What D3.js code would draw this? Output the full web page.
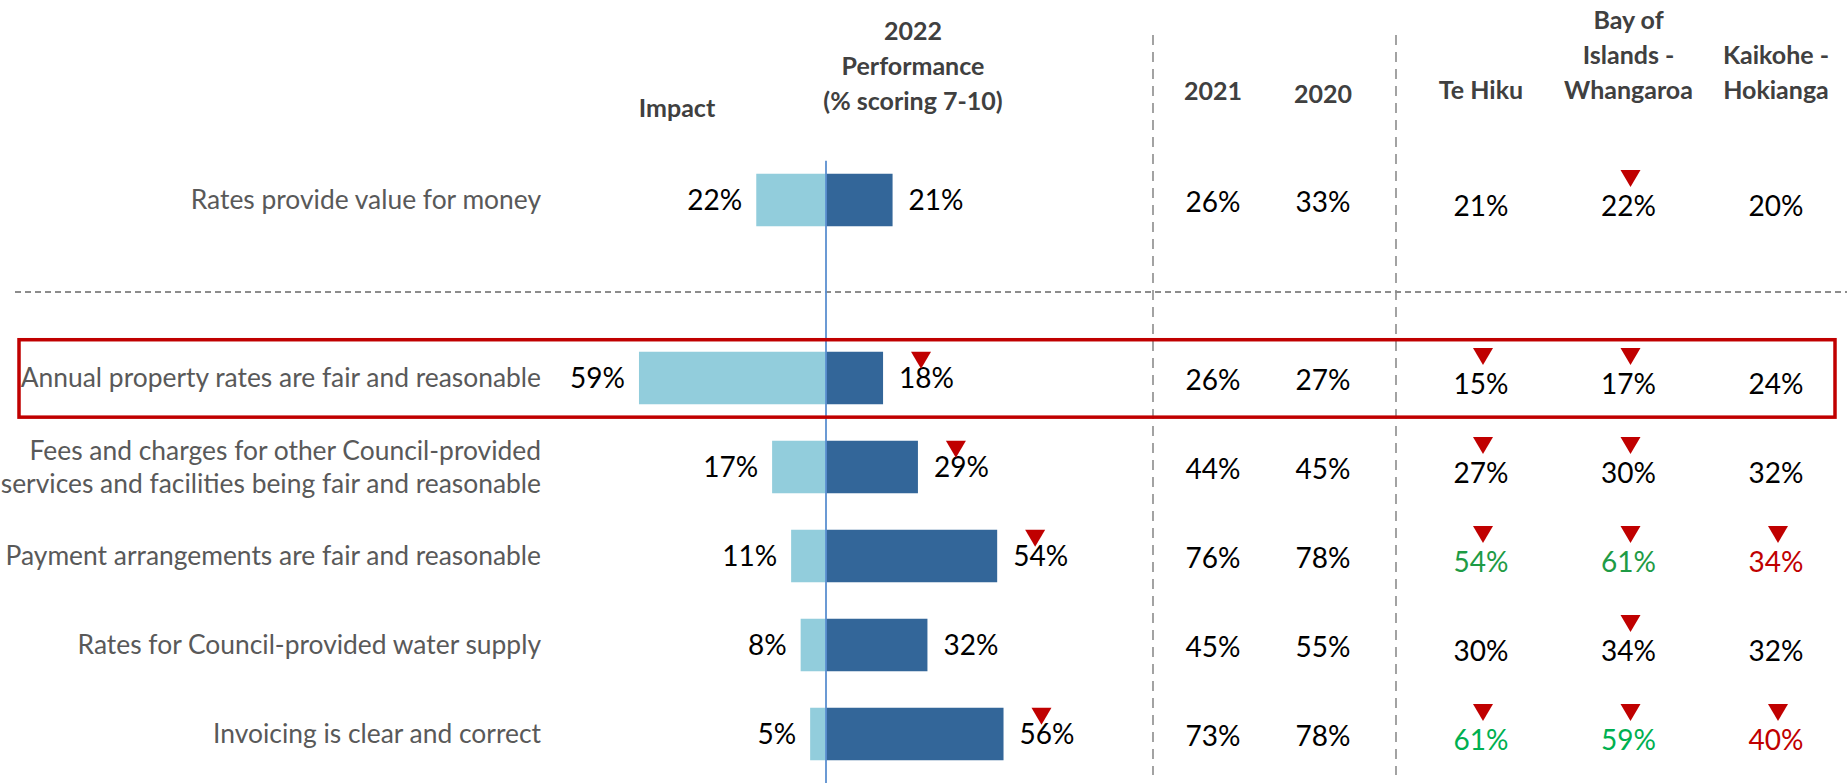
<!DOCTYPE html>
<html>
<head>
<meta charset="utf-8">
<script src="https://cdn.jsdelivr.net/npm/d3@7/dist/d3.min.js"></script>
<style>
  html, body { margin: 0; padding: 0; background: #ffffff; }
  svg { display: block; }
  text { font-family: Lato, Carlito, sans-serif; }
</style>
</head>
<body>
<svg id="chart" width="1847" height="783"></svg>
<script>
// ---------------- DATA ----------------
const categories = [
  ["Rates provide value for money"],
  ["Annual property rates are fair and reasonable"],
  ["Fees and charges for other Council-provided", "services and facilities being fair and reasonable"],
  ["Payment arrangements are fair and reasonable"],
  ["Rates for Council-provided water supply"],
  ["Invoicing is clear and correct"]
];
const impact       = [22, 59, 17, 11, 8, 5];
const perf2022     = [21, 18, 29, 54, 32, 56];
const perf2022Down = [false, true, true, true, false, true];

const yearCols = ["2021", "2020"];
const perf2021 = [26, 26, 44, 76, 45, 73];
const perf2020 = [33, 27, 45, 78, 55, 78];

const wardHeaders = [["Te Hiku"], ["Bay of", "Islands -", "Whangaroa"], ["Kaikohe -", "Hokianga"]];
const teHiku   = [21, 15, 27, 54, 30, 61];
const bayOfIsl = [22, 17, 30, 61, 34, 59];
const kaikohe  = [20, 24, 32, 34, 32, 40];
const teHikuDown   = [false, true, true, true, false, true];
const bayOfIslDown = [true, true, true, true, true, true];
const kaikoheDown  = [false, false, false, true, false, true];
// significance vs district: "" none, "higher", "higherB", "lower"
const teHikuSig   = ["", "", "", "higher", "", "higherB"];
const bayOfIslSig = ["", "", "", "higher", "", "higherB"];
const kaikoheSig  = ["", "", "", "lower", "", "lower"];

const highlightRow = 1;

// ---------------- LAYOUT ----------------
const W = 1847, H = 783;
const svg = d3.select("#chart");

const slots = ["r0", "sep", "r1", "r2", "r3", "r4", "r5"];
const rowKey = i => i === 0 ? "r0" : "r" + i;
const y = d3.scalePoint().domain(slots).range([200, 734]);
const step = y.step();
const barH = step * 0.59;

const axisX = 826;
const x = d3.scaleLinear().domain([0, 100]).range([0, 317]);

const yearX = d3.scalePoint().domain(yearCols).range([1213, 1323]);
const wardX = d3.scalePoint().domain([0, 1, 2]).range([1481, 1776]);

const sigColor = { "": "#000000", higher: "#1E9B45", higherB: "#00B050", lower: "#C00000" };
const lightBlue = "#92CDDC", darkBlue = "#336699", red = "#C00000";
const valSize = 28;

// ---------- dashed separators ----------
const dashColor = "#8c8c8c";
svg.append("line")
  .attr("x1", 15).attr("x2", W)
  .attr("y1", y("sep") + 3).attr("y2", y("sep") + 3)
  .attr("stroke", dashColor).attr("stroke-width", 1.8).attr("stroke-dasharray", "6,4");
[1153, 1396].forEach(vx => {
  svg.append("line")
    .attr("x1", vx).attr("x2", vx).attr("y1", 35).attr("y2", 775)
    .attr("stroke", dashColor).attr("stroke-width", 1.6).attr("stroke-dasharray", "10,7");
});

// ---------- headers ----------
const hdrColor = "#404040";
function header(lines, cx, yLast, size) {
  const t = svg.append("text").attr("text-anchor", "middle")
    .attr("font-weight", "bold").attr("font-size", size || 25).attr("fill", hdrColor);
  lines.forEach((l, i) => {
    t.append("tspan").attr("x", cx).attr("y", yLast - (lines.length - 1 - i) * 35).text(l);
  });
}
header(["Impact"], 677, 117);
header(["2022", "Performance", "(% scoring 7-10)"], 913, 110);
header(["2021"], yearX("2021"), 100);
header(["2020"], yearX("2020"), 103);
wardHeaders.forEach((h, i) => header(h, wardX(i), 99));

// ---------- bars ----------
const rows = categories.map((c, i) => ({
  i, label: c, impact: impact[i], perf: perf2022[i], down: perf2022Down[i], cy: y(rowKey(i))
}));

svg.selectAll("rect.light").data(rows).enter().append("rect")
  .attr("class", "light")
  .attr("x", d => axisX - x(d.impact)).attr("width", d => x(d.impact))
  .attr("y", d => d.cy - barH / 2).attr("height", barH)
  .attr("fill", lightBlue);

svg.selectAll("rect.dark").data(rows).enter().append("rect")
  .attr("class", "dark")
  .attr("x", axisX).attr("width", d => x(d.perf))
  .attr("y", d => d.cy - barH / 2).attr("height", barH)
  .attr("fill", darkBlue);

// axis line
svg.append("line")
  .attr("x1", axisX).attr("x2", axisX)
  .attr("y1", y("r0") - step * 0.44).attr("y2", H)
  .attr("stroke", "#5B8FD0").attr("stroke-width", 1.8);

// category labels
rows.forEach(d => {
  const t = svg.append("text").attr("text-anchor", "end")
    .attr("font-size", 26.4).attr("fill", "#595959");
  const n = d.label.length;
  d.label.forEach((l, k) => {
    t.append("tspan").attr("x", 541)
      .attr("y", d.cy + 9 + (k - (n - 1) / 2) * 33).text(l);
  });
});

// bar value labels
svg.selectAll("text.impact").data(rows).enter().append("text")
  .attr("class", "impact").attr("text-anchor", "end")
  .attr("x", d => axisX - x(d.impact) - 14).attr("y", d => d.cy + 10)
  .attr("font-size", valSize).attr("fill", "#000").text(d => d.impact + "%");

const perfLabels = svg.selectAll("text.perf").data(rows).enter().append("text")
  .attr("class", "perf").attr("text-anchor", "start")
  .attr("x", d => axisX + x(d.perf) + 16).attr("y", d => d.cy + 10)
  .attr("font-size", valSize).attr("fill", "#000").text(d => d.perf + "%");

function tri(cx, top) {
  const w = 20, h = 17;
  svg.append("path")
    .attr("d", `M${cx - w / 2},${top} L${cx + w / 2},${top} L${cx},${top + h} Z`)
    .attr("fill", red);
}
perfLabels.each(function(d) {
  if (!d.down) return;
  const len = this.getComputedTextLength();
  tri(axisX + x(d.perf) + 16 + len * 0.4, d.cy - barH / 2);
});

// year columns
[perf2021, perf2020].forEach((arr, c) => {
  arr.forEach((v, i) => {
    svg.append("text").attr("text-anchor", "middle")
      .attr("x", yearX(yearCols[c])).attr("y", y(rowKey(i)) + 12)
      .attr("font-size", valSize).attr("fill", "#000").text(v + "%");
  });
});

// ward columns
const wards = [
  { vals: teHiku, down: teHikuDown, sig: teHikuSig },
  { vals: bayOfIsl, down: bayOfIslDown, sig: bayOfIslSig },
  { vals: kaikohe, down: kaikoheDown, sig: kaikoheSig }
];
wards.forEach((w, c) => {
  w.vals.forEach((v, i) => {
    const cy = y(rowKey(i)) + 6;
    svg.append("text").attr("text-anchor", "middle")
      .attr("x", wardX(c)).attr("y", cy + 10)
      .attr("font-size", valSize).attr("fill", sigColor[w.sig[i]]).text(v + "%");
    if (w.down[i]) tri(wardX(c) + 2, cy - 36);
  });
});

// highlight box
const hy = y(rowKey(highlightRow));
svg.append("rect")
  .attr("x", 19).attr("y", hy - step * 0.43)
  .attr("width", 1835 - 19).attr("height", step * 0.87)
  .attr("fill", "none").attr("stroke", red).attr("stroke-width", 3.5);
</script>
</body>
</html>
